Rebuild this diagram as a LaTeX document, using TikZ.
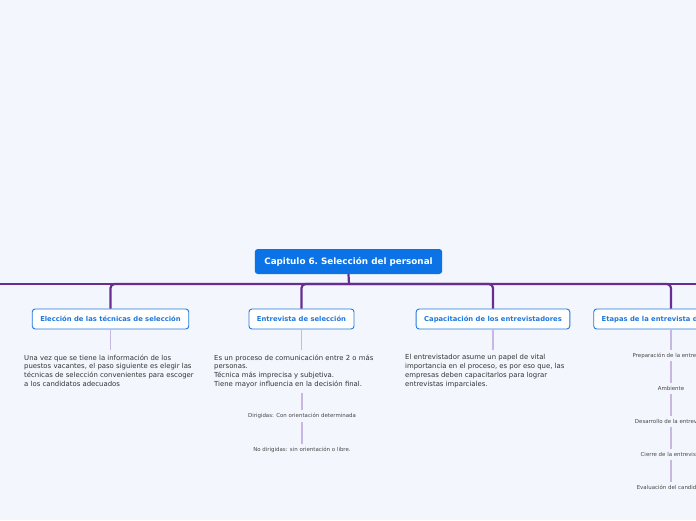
\documentclass[tikz,border=0pt]{standalone}
\usepackage{fontspec}
\setmainfont{DejaVu Sans}
\usetikzlibrary{positioning, arrows.meta, calc}
\definecolor{mmbg}{HTML}{F3F6FD}
\definecolor{mmroot}{HTML}{0B73E5}
\definecolor{mmtrunk}{HTML}{682D90}
\definecolor{mmtwig}{HTML}{C9B7E3}
\definecolor{mmblue}{HTML}{1F78DC}
\definecolor{mmtext}{HTML}{333333}

\begin{document}
\begin{tikzpicture}[x=1pt, y=-1pt,
    root/.style={fill=mmroot, rounded corners=3pt, text=white, font=\fontsize{8.8}{10}\selectfont\bfseries\frenchspacing,
                 minimum height=25pt, inner xsep=9.5pt, inner ysep=0pt},
    topic/.style={draw=mmblue, line width=0.9pt, fill=white, rounded corners=3pt, text=mmblue,
                  font=\fontsize{6.8}{8}\selectfont\bfseries, minimum height=20pt, inner xsep=8pt, inner ysep=0pt},
    note/.style={anchor=north west, align=left, text=mmtext, font=\fontsize{6.9}{8.7}\selectfont\frenchspacing,
                 inner xsep=0pt, inner ysep=5pt},
    leaf/.style={text=mmtext!90, font=\fontsize{5.45}{6.5}\selectfont, inner sep=3pt},
    trunk/.style={mmtrunk, line width=2.2pt},
    twig/.style={mmtwig, line width=1.1pt}]
    \path[use as bounding box, fill=mmbg] (0,0) rectangle (696,520);
    \clip (0,0) rectangle (696,520);
    % central topic
    \node[root] (root) at (348.5,261.5) {Capitulo 6. Selección del personal};
    \coordinate (bus) at (349,284);
    \coordinate (busl) at (-10,284);
    \coordinate (busr) at (706,284);
    % main topics
    \node[topic] (elec) at (110.5,319) {Elección de las técnicas de selección};
    \node[topic] (entr) at (301.5,319) {Entrevista de selección};
    \node[topic] (capa) at (493,319) {Capacitación de los entrevistadores};
    \node[topic] (etap) at (671,319) {Etapas de la entrevista de selección};
    \draw[trunk] (busl) -- (busr);
    \draw[trunk] (root.south) -- (bus);
    \foreach \t in {elec,entr,capa,etap}
        \draw[trunk, rounded corners=4pt] (bus) -| (\t.north);
    % notes
    \node[note] (elecn) at (24,349.5) {Una vez que se tiene la información de los\\puestos vacantes, el paso siguiente es elegir las\\técnicas de selección convenientes para escoger\\a los candidatos adecuados};
    \node[note] (entrn) at (214,349.5) {Es un proceso de comunicación entre 2 o más\\personas.\\Técnica más imprecisa y subjetiva.\\Tiene mayor influencia en la decisión final.};
    \node[note] (capan) at (405,349.5) {El entrevistador asume un papel de vital\\importancia en el proceso, es por eso que, las\\empresas deben capacitarlos para lograr\\entrevistas imparciales.};
    \draw[twig] (elec.south) -- (elec.south |- elecn.north);
    \draw[twig] (entr.south) -- (entr.south |- entrn.north);
    \draw[twig] (capa.south) -- (capa.south |- capan.north);
    % interview types
    \node[leaf] (dir) at (302,416) {Dirigidas: Con orientación determinada};
    \node[leaf] (nodir) at (302,450) {No dirigidas: sin orientación o libre.};
    \draw[twig] (entrn.south -| dir.north) -- (dir.north);
    \draw[twig] (dir) -- (nodir);
    % stages
    \node[leaf] (prep) at (671,355.5) {Preparación de la entrevista};
    \node[leaf] (amb) at (671,388.5) {Ambiente};
    \node[leaf] (desa) at (671,421.5) {Desarrollo de la entrevista};
    \node[leaf] (cier) at (671,454.5) {Cierre de la entrevista};
    \node[leaf] (eval) at (671,487.5) {Evaluación del candidato};
    \draw[twig] (etap) -- (prep);
    \draw[twig] (prep) -- (amb);
    \draw[twig] (amb) -- (desa);
    \draw[twig] (desa) -- (cier);
    \draw[twig] (cier) -- (eval);
\end{tikzpicture}
\end{document}
